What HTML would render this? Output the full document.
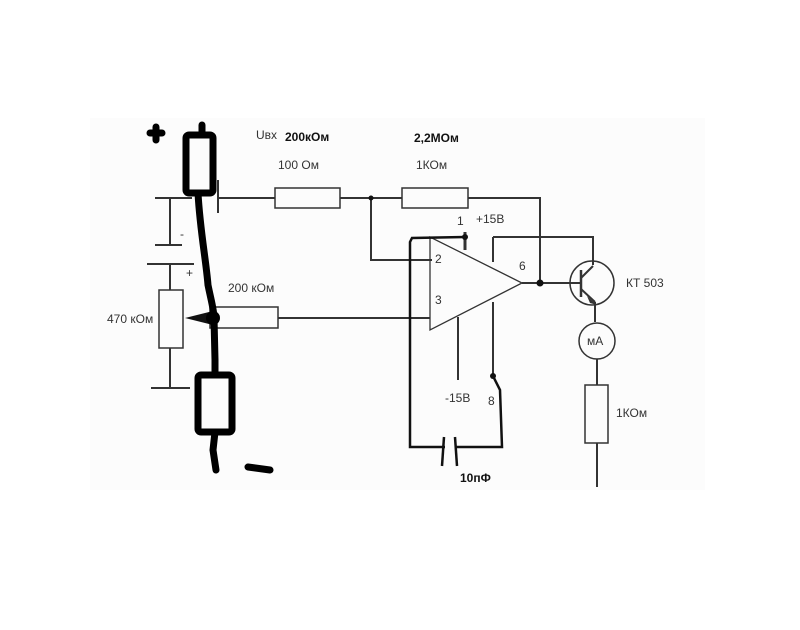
<!DOCTYPE html>
<html><head><meta charset="utf-8"><style>
body{margin:0;background:#fff}
svg{display:block}
text{font-family:"Liberation Sans",sans-serif;font-size:12px;fill:#333}
</style></head><body>
<svg width="800" height="630" viewBox="0 0 800 630">
<rect x="90" y="118" width="615" height="372" fill="#fcfcfc"/>
<g stroke="#333" stroke-width="2" fill="none">
<line x1="218" y1="180" x2="218" y2="213"/>
<line x1="218" y1="198" x2="275" y2="198"/>
<rect x="275" y="188" width="65" height="20" stroke-width="1.5"/>
<line x1="340" y1="198" x2="402" y2="198"/>
<rect x="402" y="188" width="66" height="20" stroke-width="1.5"/>
<polyline points="468,198 540,198 540,283"/>
<polyline points="371,198 371,260 432,260"/>
<polygon points="430,237 430,330 522,283" stroke-width="1.3"/>
<line x1="278" y1="318" x2="430" y2="318"/>
<rect x="210" y="307" width="68" height="21" stroke-width="1.5"/>
<line x1="522" y1="283" x2="581" y2="283"/>
<line x1="155" y1="198" x2="192" y2="198"/>
<line x1="170" y1="198" x2="170" y2="245"/>
<line x1="155" y1="245" x2="182" y2="245"/>
<line x1="147" y1="264" x2="194" y2="264"/>
<line x1="170" y1="264" x2="170" y2="290"/>
<rect x="159" y="290" width="24" height="58" stroke-width="1.5"/>
<line x1="170" y1="348" x2="170" y2="388"/>
<line x1="151" y1="388" x2="190" y2="388"/>
<polyline points="493,237 593,237 593,265"/>
<line x1="493" y1="237" x2="493" y2="262"/>
<line x1="493" y1="302" x2="493" y2="376"/>
<line x1="458" y1="317" x2="458" y2="380"/>
<line x1="465" y1="232" x2="465" y2="250" stroke-width="3"/>
<polyline points="465,237 412,238 410,242 410,447 445,447" stroke="#111" stroke-width="2.5"/>
<polyline points="456,447 502,447 500,390 493,376" stroke="#111" stroke-width="2.5"/>
<line x1="444" y1="437" x2="442" y2="466" stroke="#111" stroke-width="2.5"/>
<line x1="455" y1="437" x2="457" y2="466" stroke="#111" stroke-width="2.5"/>
<circle cx="592" cy="283" r="22" stroke-width="1.5"/>
<line x1="581" y1="270" x2="581" y2="297" stroke-width="2.5"/>
<line x1="581" y1="278" x2="593" y2="266"/>
<line x1="581" y1="289" x2="595" y2="302"/>
<line x1="595" y1="302" x2="595" y2="322"/>
<circle cx="597" cy="341" r="18" stroke-width="1.5"/>
<line x1="597" y1="359" x2="597" y2="385"/>
<rect x="585" y="385" width="23" height="58" stroke-width="1.5"/>
<line x1="597" y1="443" x2="597" y2="487"/>
</g>
<polygon points="587,296 597,305 590,303" fill="#333"/>
<circle cx="540" cy="283" r="3.5" fill="#111"/>
<circle cx="371" cy="198" r="2.5" fill="#111"/>
<circle cx="465" cy="237" r="3" fill="#111"/>
<circle cx="493" cy="376" r="3" fill="#111"/>
<polygon points="185,318 213,311 213,325" fill="#111"/>
<g stroke="#000" stroke-width="7" fill="none" stroke-linecap="round" stroke-linejoin="round">
<line x1="202" y1="125" x2="202" y2="135"/>
<rect x="186" y="135" width="27" height="58" rx="3"/>
<path d="M198,193 C200,230 206,260 208,285 C211,300 214,310 214,318 L215,360 L215,373"/>
<rect x="198" y="375" width="34" height="57" rx="3"/>
<path d="M215,432 L213,450 L216,470"/>
<line x1="248" y1="467" x2="270" y2="470"/>
<path d="M150,133 L162,133 M156,127 L156,140"/>
</g>
<circle cx="213" cy="318" r="7" fill="#000"/>
<text x="256" y="139" font-size="11">Uвх</text>
<text x="285" y="141" font-size="10" font-weight="bold" style="fill:#111">200кОм</text>
<text x="278" y="169">100 Ом</text>
<text x="414" y="142" font-size="10" font-weight="bold" style="fill:#111">2,2МОм</text>
<text x="416" y="169">1КОм</text>
<text x="228" y="292">200 кОм</text>
<text x="107" y="323">470 кОм</text>
<text x="180" y="238">-</text>
<text x="186" y="277">+</text>
<text x="457" y="225">1</text>
<text x="476" y="223">+15В</text>
<text x="435" y="263">2</text>
<text x="435" y="304">3</text>
<text x="519" y="270">6</text>
<text x="626" y="287">КТ 503</text>
<text x="587" y="345" font-size="10">мА</text>
<text x="445" y="402">-15В</text>
<text x="488" y="405">8</text>
<text x="616" y="417">1КОм</text>
<text x="460" y="482" font-size="11" font-weight="bold" style="fill:#111">10пФ</text>
</svg>
</body></html>
